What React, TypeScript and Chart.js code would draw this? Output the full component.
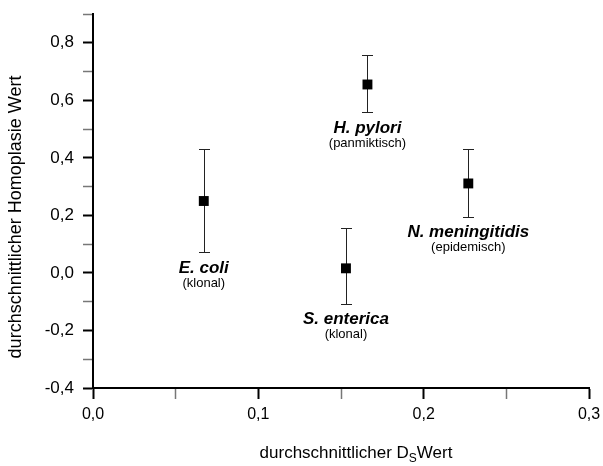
import { useEffect, useRef } from 'react';
import { Chart, registerables } from 'chart.js';

Chart.register(...registerables);

const FONT = '"Liberation Sans", Arial, Helvetica, sans-serif';

const speciesNames = ['E. coli', 'S. enterica', 'H. pylori', 'N. meningitidis'];
const speciesTypes = ['(klonal)', '(klonal)', '(panmiktisch)', '(epidemisch)'];
const dsValues = [0.067, 0.153, 0.166, 0.227];
const homoplasyValues = [0.25, 0.016, 0.655, 0.311];
const errorHigh = [0.432, 0.157, 0.756, 0.432];
const errorLow = [0.071, -0.107, 0.559, 0.196];

const yMajorTicks = [-0.4, -0.2, 0.0, 0.2, 0.4, 0.6, 0.8];
const xMajorTicks = [0.0, 0.1, 0.2, 0.3];

const fmt = (v: number) => v.toFixed(1).replace('.', ',');
const isIn = (list: number[], v: number) => list.some((t) => Math.abs(t - v) < 1e-6);

export default function App() {
  const ref = useRef<HTMLCanvasElement>(null);

  useEffect(() => {
    document.body.style.margin = '0';
    if (!ref.current) return;

    const errorBars = {
      id: 'errorBars',
      beforeDatasetsDraw(chart: any) {
        const { ctx, scales } = chart;
        const x = scales.x;
        const y = scales.y;
        ctx.save();
        ctx.strokeStyle = '#222';
        ctx.lineWidth = 1;
        dsValues.forEach((v, i) => {
          const px = Math.round(x.getPixelForValue(v)) + 0.5;
          const top = Math.round(y.getPixelForValue(errorHigh[i])) + 0.5;
          const bot = Math.round(y.getPixelForValue(errorLow[i])) + 0.5;
          ctx.beginPath();
          ctx.moveTo(px, top);
          ctx.lineTo(px, bot);
          ctx.moveTo(px - 5.5, top);
          ctx.lineTo(px + 5.5, top);
          ctx.moveTo(px - 5.5, bot);
          ctx.lineTo(px + 5.5, bot);
          ctx.stroke();
        });
        ctx.restore();
      },
    };

    const speciesLabels = {
      id: 'speciesLabels',
      afterDatasetsDraw(chart: any) {
        const { ctx, scales } = chart;
        const x = scales.x;
        const y = scales.y;
        ctx.save();
        ctx.fillStyle = '#000';
        ctx.textAlign = 'center';
        ctx.textBaseline = 'middle';
        dsValues.forEach((v, i) => {
          const px = x.getPixelForValue(v);
          const bot = y.getPixelForValue(errorLow[i]);
          ctx.font = `italic bold 17px ${FONT}`;
          ctx.fillText(speciesNames[i], px, bot + 16);
          ctx.font = `13px ${FONT}`;
          ctx.fillText(speciesTypes[i], px, bot + 31);
        });
        ctx.restore();
      },
    };

    const axisTitles = {
      id: 'axisTitles',
      afterDraw(chart: any) {
        const { ctx, chartArea } = chart;
        ctx.save();
        ctx.fillStyle = '#000';
        ctx.textBaseline = 'middle';
        const main = 'durchschnittlicher D';
        const sub = 'S';
        const rest = 'Wert';
        ctx.font = `17px ${FONT}`;
        const w1 = ctx.measureText(main).width;
        const w3 = ctx.measureText(rest).width;
        ctx.font = `12px ${FONT}`;
        const w2 = ctx.measureText(sub).width;
        const total = w1 + w2 + w3;
        const cx = (chartArea.left + chartArea.right) / 2 + 15;
        const ty = 453;
        let sx = cx - total / 2;
        ctx.textAlign = 'left';
        ctx.font = `17px ${FONT}`;
        ctx.fillText(main, sx, ty);
        sx += w1;
        ctx.font = `12px ${FONT}`;
        ctx.fillText(sub, sx, ty + 6);
        sx += w2;
        ctx.font = `17px ${FONT}`;
        ctx.fillText(rest, sx, ty);
        ctx.translate(16, 217);
        ctx.rotate(-Math.PI / 2);
        ctx.textAlign = 'center';
        ctx.font = `18px ${FONT}`;
        ctx.fillText('durchschnittlicher Homoplasie Wert', 0, 0);
        ctx.restore();
      },
    };

    const chart = new Chart(ref.current, {
      type: 'scatter',
      data: {
        datasets: [
          {
            data: dsValues.map((v, i) => ({ x: v, y: homoplasyValues[i] })),
            backgroundColor: '#000',
            borderColor: '#000',
            pointStyle: 'rect',
            pointRadius: 7,
            pointHoverRadius: 7,
            borderWidth: 0,
          },
        ],
      },
      options: {
        animation: false,
        responsive: false,
        maintainAspectRatio: false,
        layout: { padding: { top: 14, right: 14, left: 0, bottom: 0 } },
        plugins: {
          legend: { display: false },
          tooltip: { enabled: false },
          title: { display: false },
        },
        scales: {
          x: {
            type: 'linear',
            min: 0,
            max: 0.3,
            afterFit: (s: any) => {
              s.height = 78;
              s.paddingLeft = 0;
              s.paddingRight = 0;
            },
            ticks: {
              stepSize: 0.05,
              autoSkip: false,
              maxRotation: 0,
              color: '#000',
              padding: 6,
              font: { family: FONT, size: 16 },
              callback: (v: any) => (isIn(xMajorTicks, Number(v)) ? fmt(Number(v)) : ''),
            },
            grid: {
              drawOnChartArea: false,
              drawTicks: true,
              tickLength: 11,
              tickColor: (c: any) => (isIn(xMajorTicks, c.tick?.value) ? '#000' : '#777'),
              tickWidth: (c: any) => (isIn(xMajorTicks, c.tick?.value) ? 2 : 1.5),
            },
            border: { display: true, color: '#000', width: 2 },
          },
          y: {
            type: 'linear',
            min: -0.4,
            max: 0.9,
            afterFit: (s: any) => {
              s.width = 93;
              s.paddingTop = 0;
              s.paddingBottom = 0;
            },
            ticks: {
              stepSize: 0.1,
              autoSkip: false,
              color: '#000',
              padding: 9,
              font: { family: FONT, size: 17 },
              callback: (v: any) => (isIn(yMajorTicks, Number(v)) ? fmt(Number(v)) : ''),
            },
            grid: {
              drawOnChartArea: false,
              drawTicks: true,
              tickLength: 10,
              tickColor: (c: any) => (isIn(yMajorTicks, c.tick?.value) ? '#000' : '#777'),
              tickWidth: (c: any) => (isIn(yMajorTicks, c.tick?.value) ? 2 : 1.5),
            },
            border: { display: true, color: '#000', width: 2 },
          },
        },
      },
      plugins: [errorBars, speciesLabels, axisTitles],
    });

    return () => chart.destroy();
  }, []);

  return (
    <div style={{ position: 'relative', width: 603, height: 466 }}>
      <canvas ref={ref} width={603} height={466} style={{ width: 603, height: 466, display: 'block' }} />
    </div>
  );
}
